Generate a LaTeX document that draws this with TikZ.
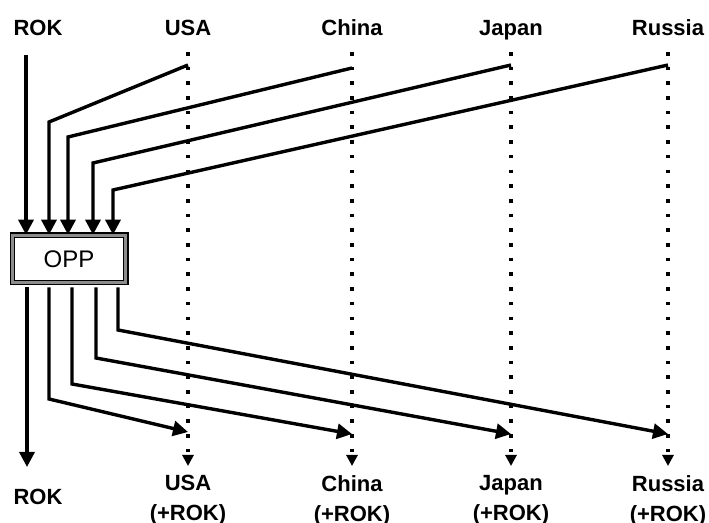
\documentclass[tikz,border=0pt]{standalone}
\usepackage{fontspec}
\setmainfont{Liberation Sans}
\usepackage{tikz}
\usetikzlibrary{arrows.meta,calc,positioning}
\definecolor{tinta}{HTML}{000000}
\definecolor{marco}{HTML}{8C8C8C}
\tikzset{
  caja/.style={draw=tinta,double=marco,double distance=1.5pt,line width=0.7pt,fill=white,minimum width=56.6pt,minimum height=23.6pt,inner sep=0pt,font=\fontsize{12}{14}\selectfont},
  flecha/.style={draw=tinta,line width=1.7pt,-{Triangle[length=7.5pt,width=7.5pt]}},
  guia/.style={draw=tinta,line width=1.8pt,dash pattern=on 1.8pt off 5.55pt,-{Triangle[length=5.5pt,width=5.5pt]}},
  pais/.style={font=\fontsize{11}{13}\selectfont\bfseries,inner sep=0pt,anchor=base},
  paisb/.style={font=\fontsize{11}{15}\selectfont\bfseries,inner sep=0pt,align=center,anchor=north},
}

\begin{document}
\begin{tikzpicture}[x=0.5pt,y=-0.5pt]
\useasboundingbox (0,0) rectangle (709,523);
% etiquetas de arriba
\node[pais] (rokA) at (38,36) {ROK};
\node[pais] (usaA) at (188,36) {USA};
\node[pais] (chnA) at (352,36) {China};
\node[pais] (jpnA) at (511,36) {Japan};
\node[pais] (rusA) at (668,36) {Russia};
% etiquetas de abajo
\node[pais] (rokB) at (38,505) {ROK};
\node[paisb] (usaB) at (188,475) {USA\\(+ROK)};
\node[paisb] (chnB) at (352,475) {China\\(+ROK)};
\node[paisb] (jpnB) at (511,475) {Japan\\(+ROK)};
\node[paisb] (rusB) at (668,475) {Russia\\(+ROK)};
% lineas guia
\coordinate (g1) at (188,52);
\coordinate (g2) at (352,52);
\coordinate (g3) at (511,52);
\coordinate (g4) at (668,52);
\coordinate (h1) at (188,466);
\coordinate (h2) at (352,466);
\coordinate (h3) at (511,466);
\coordinate (h4) at (668,466);
\draw[guia] (g1) -- (h1);
\draw[guia] (g2) -- (h2);
\draw[guia] (g3) -- (h3);
\draw[guia] (g4) -- (h4);
\node[caja] (opp) at (69,259) {OPP};
% entradas
\coordinate (rokIn) at (26,55);
\coordinate (usaIn) at (188,65);
\coordinate (chnIn) at (352,68);
\coordinate (jpnIn) at (511,65);
\coordinate (rusIn) at (668,65);
\coordinate (c1) at (49,122);
\coordinate (c2) at (68,137);
\coordinate (c3) at (93,163);
\coordinate (c4) at (113,190);
\draw[flecha] (rokIn) -- (rokIn |- opp.north);
\draw[flecha] (usaIn) -- (c1) -- (c1 |- opp.north);
\draw[flecha] (chnIn) -- (c2) -- (c2 |- opp.north);
\draw[flecha] (jpnIn) -- (c3) -- (c3 |- opp.north);
\draw[flecha] (rusIn) -- (c4) -- (c4 |- opp.north);
% salidas
\coordinate (d0) at (27,467);
\coordinate (d1) at (49,399);
\coordinate (d2) at (72,384);
\coordinate (d3) at (96,358);
\coordinate (d4) at (118,330);
\coordinate (usaOut) at (188,432);
\coordinate (chnOut) at (352,434);
\coordinate (jpnOut) at (511,434);
\coordinate (rusOut) at (668,434);
\draw[flecha] ($(d0 |- opp.south)+(0,4)$) -- (d0);
\draw[flecha] ($(d1 |- opp.south)+(0,4)$) -- (d1) -- (usaOut);
\draw[flecha] ($(d2 |- opp.south)+(0,4)$) -- (d2) -- (chnOut);
\draw[flecha] ($(d3 |- opp.south)+(0,4)$) -- (d3) -- (jpnOut);
\draw[flecha] ($(d4 |- opp.south)+(0,4)$) -- (d4) -- (rusOut);
\end{tikzpicture}
\end{document}
